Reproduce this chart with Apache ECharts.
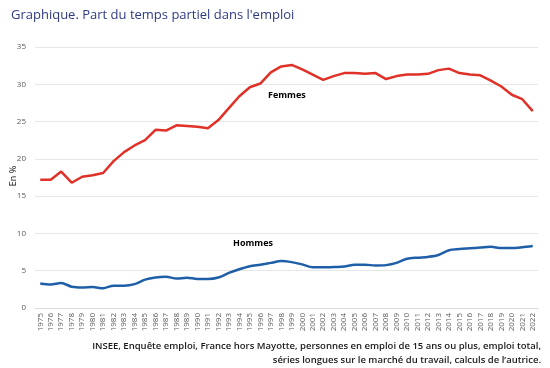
<!DOCTYPE html>
<html>
<head>
<meta charset="utf-8">
<script src="https://cdn.jsdelivr.net/npm/echarts@6/dist/echarts.min.js"></script>
<style>html,body{margin:0;padding:0;background:#fff}#c{width:550px;height:368px}</style>
</head>
<body>
<div id="c"></div>
<script>
const years = [];
for (let y = 1975; y <= 2022; y++) years.push(String(y));
const femmes = [17.2,17.2,18.3,16.8,17.6,17.8,18.1,19.7,20.9,21.8,22.5,23.9,23.8,24.5,24.4,24.3,24.1,25.2,26.8,28.4,29.6,30.1,31.6,32.4,32.6,32.0,31.3,30.6,31.1,31.5,31.5,31.4,31.5,30.7,31.1,31.3,31.3,31.4,31.9,32.1,31.5,31.3,31.2,30.5,29.7,28.6,28.0,26.4];
const hommes = [3.3,3.15,3.35,2.85,2.75,2.8,2.65,3.0,3.0,3.2,3.8,4.1,4.2,3.95,4.05,3.9,3.9,4.1,4.7,5.2,5.6,5.8,6.05,6.3,6.15,5.85,5.45,5.45,5.5,5.55,5.8,5.8,5.7,5.75,6.05,6.6,6.75,6.85,7.1,7.75,7.9,8.0,8.1,8.2,8.05,8.05,8.15,8.3];
const title = "Graphique. Part du temps partiel dans l'emploi";
const yName = "En %";
const source1 = "INSEE, Enquête emploi, France hors Mayotte, personnes en emploi de 15 ans ou plus, emploi total,";
const source2 = "séries longues sur le marché du travail, calculs de l\u2019autrice.";

const chart = echarts.init(document.getElementById('c'));
const font = "'Open Sans', 'Noto Sans', sans-serif";
chart.setOption({
  animation: false,
  textStyle: { fontFamily: font },
  title: {
    text: title, left: 6, top: 4,
    textStyle: { color: '#2e3a87', fontSize: 13, fontWeight: 'normal', fontFamily: font }
  },
  grid: { left: 35, right: 12, top: 47, bottom: 60, containLabel: false, outerBoundsMode: 'none' },
  xAxis: {
    type: 'category', data: years, boundaryGap: true,
    axisLine: { show: true, lineStyle: { color: '#d9d9d9' } },
    axisTick: { show: false },
    axisLabel: { rotate: 90, interval: 0, color: '#595959', fontSize: 8, margin: 5 }
  },
  yAxis: {
    type: 'value', min: 0, max: 35, interval: 5,
    axisLine: { show: false }, axisTick: { show: false },
    axisLabel: { color: '#595959', fontSize: 8, margin: 9 },
    splitLine: { lineStyle: { color: '#e6e6e6' } }
  },
  series: [
    { name: 'Femmes', type: 'line', data: femmes, symbol: 'none', lineStyle: { color: '#e03128', width: 2.5 } },
    { name: 'Hommes', type: 'line', data: hommes, symbol: 'none', smooth: 0.3, lineStyle: { color: '#1f5fa8', width: 2.5 } }
  ],
  graphic: [
    { type: 'text', x: 13, y: 176, rotation: Math.PI / 2, style: { text: yName, font: "9px " + font, fill: '#000', textAlign: 'center', textVerticalAlign: 'middle' } },
    { type: 'text', left: 268, top: 91, style: { text: 'Femmes', font: "bold 9px " + font, fill: '#000' } },
    { type: 'text', left: 233, top: 239, style: { text: 'Hommes', font: "bold 9px " + font, fill: '#000' } },
    { type: 'text', right: 9, top: 341, style: { text: source1, font: "600 9.5px " + font, fill: '#1a1a1a', textAlign: 'right' } },
    { type: 'text', right: 9, top: 355, style: { text: source2, font: "600 9.5px " + font, fill: '#1a1a1a', textAlign: 'right' } }
  ]
});
</script>
</body>
</html>
